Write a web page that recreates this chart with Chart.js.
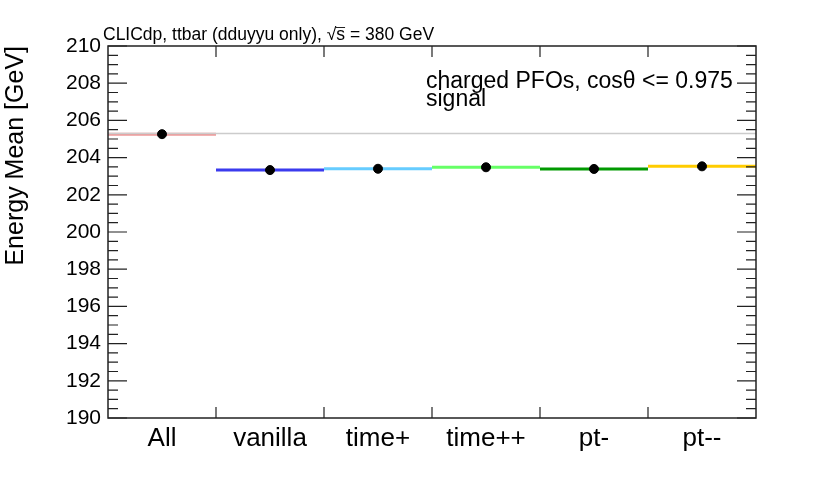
<!DOCTYPE html>
<html>
<head>
<meta charset="utf-8">
<script src="https://cdn.jsdelivr.net/npm/chart.js@4/dist/chart.umd.min.js"></script>
<style>
  html, body { margin: 0; padding: 0; background: #fff; }
  #wrap { width: 830px; height: 482px; }
</style>
</head>
<body>
<div id="wrap"><canvas id="chart"></canvas></div>
<script>
// Categories and values
const categories = ['All', 'vanilla', 'time+', 'time++', 'pt-', 'pt--'];
const energyMean = [205.26, 203.33, 203.40, 203.48, 203.39, 203.53];
const lineColors = ['#ee9999', '#3b3bee', '#66ccff', '#66ff66', '#009900', '#ffcc00'];
const referenceValue = 205.3;
const yMin = 190;
const yMax = 210;

// One flat segment per bin, spanning the whole bin
const segmentSets = categories.map((name, i) => ({
  label: name,
  data: [{ x: i, y: energyMean[i] }, { x: i + 1, y: energyMean[i] }],
  borderColor: lineColors[i],
  borderWidth: 3,
  pointRadius: 0,
  order: 3
}));

const refSet = {
  label: 'reference',
  data: [{ x: 0, y: referenceValue }, { x: categories.length, y: referenceValue }],
  borderColor: '#cccccc',
  borderWidth: 1.5,
  pointRadius: 0,
  order: 2
};

const pointSet = {
  type: 'scatter',
  label: 'mean',
  data: energyMean.map((v, i) => ({ x: i + 0.5, y: v })),
  backgroundColor: '#000',
  borderColor: '#000',
  pointRadius: 4.5,
  order: 1
};

const FONT = '"Liberation Sans", Arial, sans-serif';

// ROOT-like frame with inner tick marks on all four sides
const framePlugin = {
  id: 'frame',
  afterDraw(chart) {
    const { ctx, chartArea: a, scales } = chart;
    const x = scales.x, y = scales.y;
    ctx.save();
    ctx.strokeStyle = '#222';
    ctx.lineWidth = 1.5;
    ctx.strokeRect(a.left, a.top, a.right - a.left, a.bottom - a.top);
    ctx.lineWidth = 1.2;
    ctx.beginPath();
    for (let v = yMin; v <= yMax + 1e-9; v += 0.5) {
      const py = y.getPixelForValue(v);
      const len = Math.abs(v % 2) < 1e-9 ? 19 : 10;
      ctx.moveTo(a.left, py); ctx.lineTo(a.left + len, py);
      ctx.moveTo(a.right, py); ctx.lineTo(a.right - len, py);
    }
    for (let i = 1; i < categories.length; i++) {
      const px = x.getPixelForValue(i);
      ctx.moveTo(px, a.bottom); ctx.lineTo(px, a.bottom - 11);
      ctx.moveTo(px, a.top); ctx.lineTo(px, a.top + 11);
    }
    ctx.stroke();

    // header, with an overline on the s of sqrt(s)
    ctx.fillStyle = '#000';
    ctx.textBaseline = 'alphabetic';
    ctx.font = '17.5px ' + FONT;
    const head = 'CLICdp, ttbar (dduyyu only), \u221A';
    ctx.fillText(head + 's = 380 GeV', 103, 40);
    const sx = 103 + ctx.measureText(head).width;
    const sw = ctx.measureText('s').width;
    ctx.lineWidth = 1;
    ctx.beginPath();
    ctx.moveTo(sx - 1, 27.5); ctx.lineTo(sx + sw, 27.5);
    ctx.stroke();

    ctx.font = '23px ' + FONT;
    ctx.fillText('charged PFOs, cos\u03B8 <= 0.975', 426, 88);
    ctx.fillText('signal', 426, 106);
    ctx.restore();
  }
};

const ctx = document.getElementById('chart').getContext('2d');
new Chart(ctx, {
  type: 'line',
  data: { datasets: [...segmentSets, refSet, pointSet] },
  options: {
    responsive: true,
    maintainAspectRatio: false,
    animation: false,
    layout: { padding: { left: 0, top: 46, right: 74, bottom: 0 } },
    plugins: {
      legend: { display: false },
      tooltip: { enabled: false }
    },
    scales: {
      x: {
        type: 'linear',
        min: 0,
        max: categories.length,
        grid: { display: false, drawTicks: false },
        border: { display: false },
        afterBuildTicks(scale) {
          scale.ticks = categories.map((c, i) => ({ value: i + 0.5 }));
        },
        afterFit(scale) { scale.height = 64; },
        ticks: {
          autoSkip: false,
          maxRotation: 0,
          padding: 5,
          color: '#000',
          font: { family: FONT, size: 26 },
          callback: (v) => categories[Math.floor(v)]
        }
      },
      y: {
        min: yMin,
        max: yMax,
        grid: { display: false, drawTicks: false },
        border: { display: false },
        afterFit(scale) { scale.width = 108; },
        ticks: {
          stepSize: 2,
          padding: 7,
          color: '#000',
          font: { family: FONT, size: 21 }
        },
        title: {
          display: true,
          text: 'Energy Mean [GeV]',
          align: 'end',
          color: '#000',
          padding: { top: 1, bottom: 0 },
          font: { family: FONT, size: 25 }
        }
      }
    }
  },
  plugins: [framePlugin]
});
</script>
</body>
</html>
